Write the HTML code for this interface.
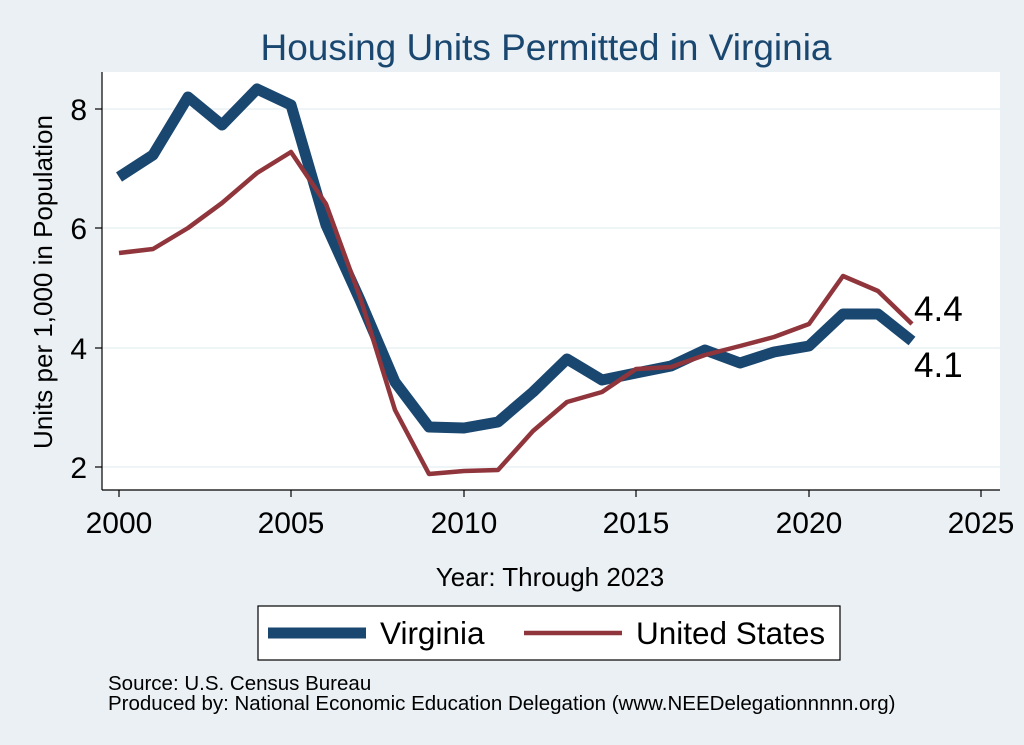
<!DOCTYPE html>
<html><head><meta charset="utf-8"><style>
html,body{margin:0;padding:0;background:#eaf0f4;}
svg{display:block;font-family:"Liberation Sans",sans-serif;}
</style></head><body>
<svg width="1024" height="745" viewBox="0 0 1024 745">
<rect width="1024" height="745" fill="#eaf0f4"/>
<text x="546" y="60" font-size="37" fill="#1a476f" text-anchor="middle">Housing Units Permitted in Virginia</text>
<rect x="102" y="72" width="898" height="418" fill="#fff"/>
<g stroke="#eaf0f4" stroke-width="1.5">
<line x1="102" y1="109" x2="1000" y2="109"/>
<line x1="102" y1="228" x2="1000" y2="228"/>
<line x1="102" y1="348" x2="1000" y2="348"/>
<line x1="102" y1="467" x2="1000" y2="467"/>
</g>
<g stroke="#000" stroke-width="1.2">
<line x1="102" y1="72" x2="102" y2="490"/>
<line x1="102" y1="490" x2="1000" y2="490"/>
<line x1="95" y1="109" x2="102" y2="109"/>
<line x1="95" y1="228" x2="102" y2="228"/>
<line x1="95" y1="348" x2="102" y2="348"/>
<line x1="95" y1="467" x2="102" y2="467"/>
<line x1="119" y1="490" x2="119" y2="497"/>
<line x1="291" y1="490" x2="291" y2="497"/>
<line x1="464" y1="490" x2="464" y2="497"/>
<line x1="636" y1="490" x2="636" y2="497"/>
<line x1="809" y1="490" x2="809" y2="497"/>
<line x1="981" y1="490" x2="981" y2="497"/>
</g>
<g font-size="30" text-anchor="end" fill="#000">
<text x="87" y="120">8</text><text x="87" y="239">6</text><text x="87" y="359">4</text><text x="87" y="478">2</text>
</g>
<g font-size="30" text-anchor="middle" fill="#000">
<text x="119" y="533">2000</text><text x="291" y="533">2005</text><text x="464" y="533">2010</text><text x="636" y="533">2015</text><text x="809" y="533">2020</text><text x="981" y="533">2025</text>
</g>
<text transform="translate(52,282) rotate(-90)" font-size="26" text-anchor="middle">Units per 1,000 in Population</text>
<text x="550" y="586" font-size="26" text-anchor="middle">Year: Through 2023</text>
<polyline fill="none" stroke="#1a476f" stroke-width="11" stroke-linejoin="round" points="119,177 153,155 188,97 222,125 257,89 291,105 326,225 360,300 395,382 429,427 464,428 498,422 533,392 567,359 602,380 636,373 671,366 705,350 740,363 774,352 809,346 843,314 878,314 912,341"/>
<polyline fill="none" stroke="#90353b" stroke-width="4.5" stroke-linejoin="round" points="119,253 153,249 188,228 222,203 257,173 291,152 326,204 360,297 395,410 429,474 464,471 498,470 533,431 567,402 602,392 636,369 671,367 705,355 740,346 774,337 809,324 843,276 878,291 912,324"/>
<text x="914" y="321" font-size="35">4.4</text>
<text x="914" y="377" font-size="35">4.1</text>
<rect x="258" y="606" width="582" height="54" fill="#fff" stroke="#000" stroke-width="1.2"/>
<line x1="268" y1="633" x2="366" y2="633" stroke="#1a476f" stroke-width="11"/>
<text x="380" y="644" font-size="31.5">Virginia</text>
<line x1="524" y1="633" x2="622" y2="633" stroke="#90353b" stroke-width="4.5"/>
<text x="636" y="644" font-size="31.5">United States</text>
<text x="108" y="690" font-size="20.5">Source: U.S. Census Bureau</text>
<text x="108" y="710" font-size="20.5">Produced by: National Economic Education Delegation (www.NEEDelegationnnnn.org)</text>
</svg>
</body></html>
